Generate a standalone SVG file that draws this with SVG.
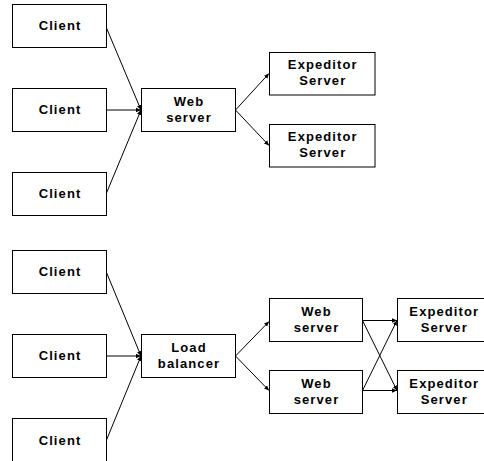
<svg xmlns="http://www.w3.org/2000/svg" width="484" height="461" viewBox="0 0 484 461">
<style>
.box{fill:#fff;stroke:#000;stroke-width:1}
.t{font-family:"Liberation Sans",Arial,sans-serif;font-weight:bold;font-size:13px;letter-spacing:1.1px;text-anchor:middle;fill:#000}
.c{stroke:#000;stroke-width:1;fill:none;marker-end:url(#ah)}
</style>
<defs>
<marker id="ah" markerUnits="userSpaceOnUse" markerWidth="6" markerHeight="6" refX="5" refY="3" orient="auto">
<path d="M0,0.8 L5,3 L0,5.2 Z" fill="#000"/>
</marker>
</defs>
<rect width="484" height="461" fill="#fff"/>
<g id="connectors">
<line class="c" x1="106.5" y1="28" x2="141" y2="110"/>
<line class="c" x1="106.5" y1="110" x2="141" y2="110"/>
<line class="c" x1="106.5" y1="193" x2="141" y2="110"/>
<line class="c" x1="235.5" y1="110" x2="269" y2="73.5"/>
<line class="c" x1="235.5" y1="110" x2="269" y2="145.5"/>
<line class="c" x1="106.5" y1="272.5" x2="141" y2="356"/>
<line class="c" x1="106.5" y1="356" x2="141" y2="356"/>
<line class="c" x1="106.5" y1="440" x2="141" y2="356"/>
<line class="c" x1="235.5" y1="356" x2="269" y2="321.5"/>
<line class="c" x1="235.5" y1="356" x2="269" y2="390.5"/>
<line class="c" x1="362.5" y1="320.5" x2="397" y2="320.5"/>
<line class="c" x1="362.5" y1="320.5" x2="397" y2="390.5"/>
<line class="c" x1="362.5" y1="390.5" x2="397" y2="320.5"/>
<line class="c" x1="362.5" y1="390.5" x2="397" y2="390.5"/>
</g>
<g id="client1"><rect class="box" x="12.5" y="4.5" width="94" height="43"/><text class="t" x="60" y="29.5">Client</text></g>
<g id="client2"><rect class="box" x="12.5" y="88.5" width="94" height="43"/><text class="t" x="60" y="113.5">Client</text></g>
<g id="client3"><rect class="box" x="12.5" y="172.5" width="94" height="43"/><text class="t" x="60" y="197.5">Client</text></g>
<g id="webserver"><rect class="box" x="141.5" y="88.5" width="94" height="43"/><text class="t" x="189" y="106"><tspan x="189">Web</tspan><tspan x="189" y="121.7">server</tspan></text></g>
<g id="expeditor1"><rect class="box" x="269.5" y="52.5" width="105.5" height="42.5"/><text class="t" x="322.8" y="69"><tspan x="322.8">Expeditor</tspan><tspan x="322.8" y="85">Server</tspan></text></g>
<g id="expeditor2"><rect class="box" x="269.5" y="124.5" width="105.5" height="42.5"/><text class="t" x="322.8" y="141"><tspan x="322.8">Expeditor</tspan><tspan x="322.8" y="157">Server</tspan></text></g>
<g id="client4"><rect class="box" x="12.5" y="250.5" width="94" height="43"/><text class="t" x="60" y="276">Client</text></g>
<g id="client5"><rect class="box" x="12.5" y="334.5" width="94" height="43"/><text class="t" x="60" y="360">Client</text></g>
<g id="client6"><rect class="box" x="12.5" y="418.5" width="94" height="43"/><text class="t" x="60" y="444.5">Client</text></g>
<g id="loadbalancer"><rect class="box" x="141.5" y="334.5" width="94" height="43"/><text class="t" x="189" y="352"><tspan x="189">Load</tspan><tspan x="189" y="367.7">balancer</tspan></text></g>
<g id="webserver1"><rect class="box" x="269.5" y="298.5" width="93" height="43"/><text class="t" x="316.5" y="316"><tspan x="316.5">Web</tspan><tspan x="316.5" y="331.5">server</tspan></text></g>
<g id="webserver2"><rect class="box" x="269.5" y="370.5" width="93" height="43"/><text class="t" x="316.5" y="388"><tspan x="316.5">Web</tspan><tspan x="316.5" y="403.5">server</tspan></text></g>
<g id="expeditor3"><rect class="box" x="397.5" y="298.5" width="100" height="43"/><text class="t" x="444.3" y="316"><tspan x="444.3">Expeditor</tspan><tspan x="444.3" y="331.5">Server</tspan></text></g>
<g id="expeditor4"><rect class="box" x="397.5" y="370.5" width="100" height="43"/><text class="t" x="444.3" y="388"><tspan x="444.3">Expeditor</tspan><tspan x="444.3" y="403.5">Server</tspan></text></g>
</svg>
